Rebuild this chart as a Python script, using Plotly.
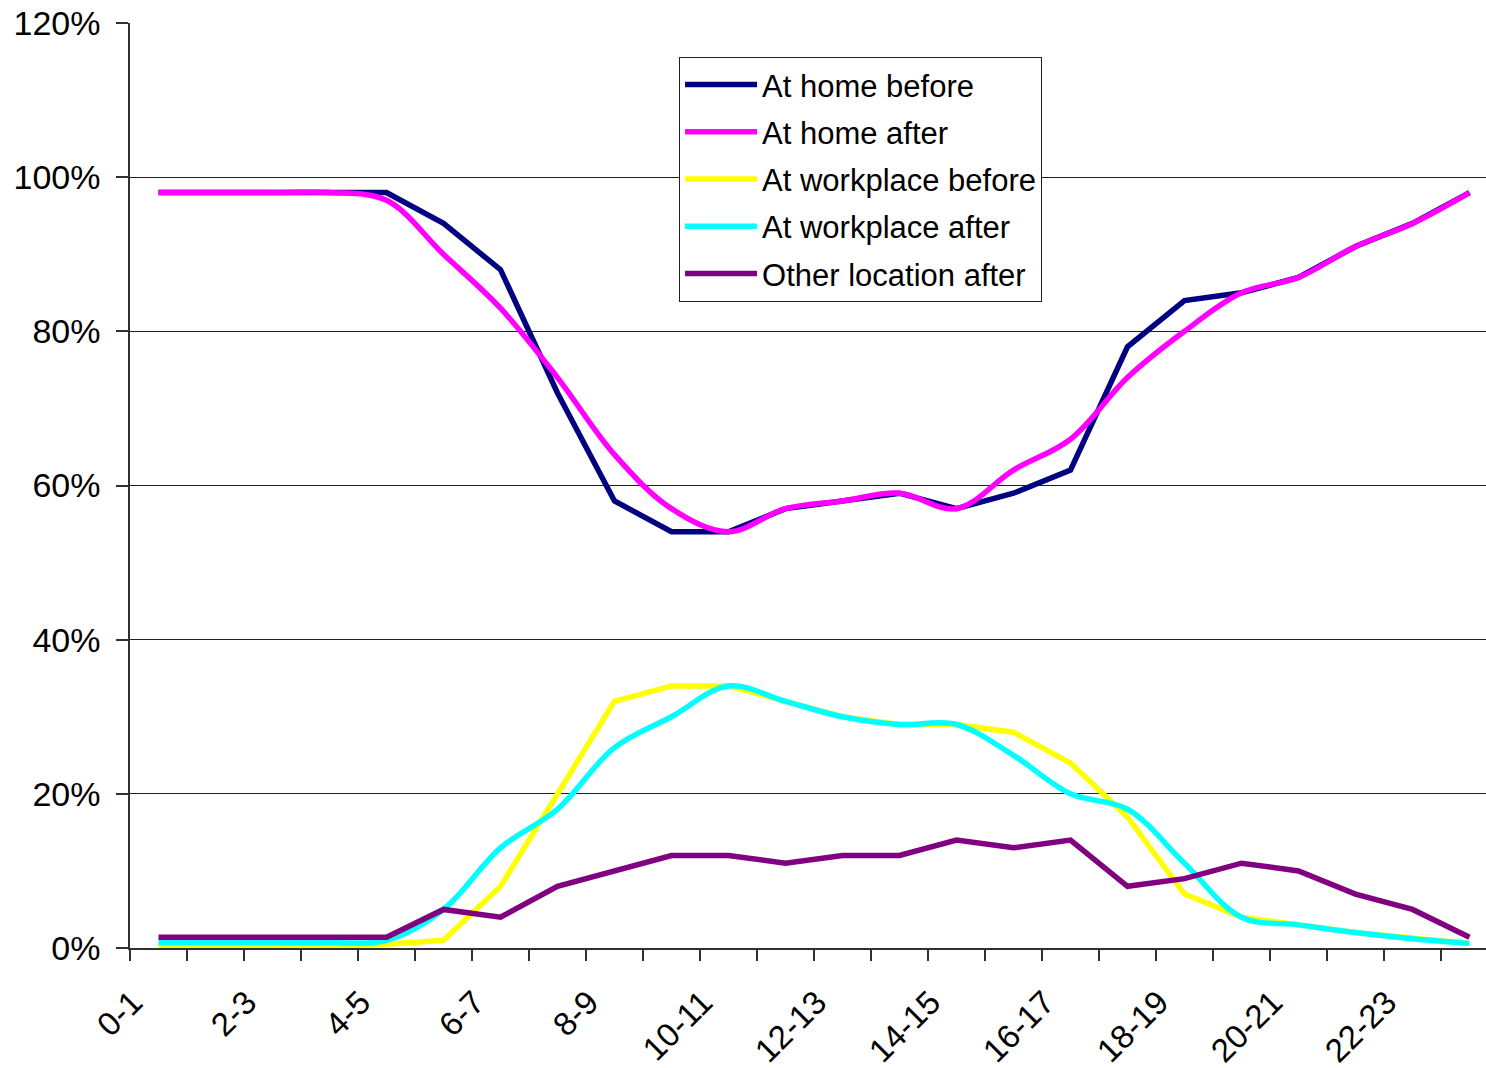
import plotly.graph_objects as go

# Hour-of-day categories
hours = ["0-1", "1-2", "2-3", "3-4", "4-5", "5-6", "6-7", "7-8", "8-9", "9-10",
         "10-11", "11-12", "12-13", "13-14", "14-15", "15-16", "16-17", "17-18",
         "18-19", "19-20", "20-21", "21-22", "22-23", "23-24"]

# Share of people at each location (%)
home_before = [98, 98, 98, 98, 98, 94, 88, 72, 58, 54, 54, 57, 58, 59, 57, 59,
               62, 78, 84, 85, 87, 91, 94, 98]
home_after = [98, 98, 98, 98, 97, 90, 83, 74, 64, 57, 54, 57, 58, 59, 57, 62,
              66, 74, 80, 85, 87, 91, 94, 98]
work_before = [0.2, 0.2, 0.2, 0.2, 0.5, 1, 8, 20, 32, 34, 34, 32, 30, 29, 29, 28,
               24, 17, 7, 4, 3, 2, 1.3, 0.6]
work_after = [0.7, 0.7, 0.7, 0.7, 1, 5, 13, 18, 26, 30, 34, 32, 30, 29, 29, 25,
              20, 18, 11, 4, 3, 2, 1.2, 0.6]
other_after = [1.4, 1.4, 1.4, 1.4, 1.4, 5, 4, 8, 10, 12, 12, 11, 12, 12, 14, 13,
               14, 8, 9, 11, 10, 7, 5, 1.4]

series = [
    ("At home before", home_before, "#000080", "linear"),
    ("At home after", home_after, "#FF00FF", "spline"),
    ("At workplace before", work_before, "#FFFF00", "linear"),
    ("At workplace after", work_after, "#00FFFF", "spline"),
    ("Other location after", other_after, "#800080", "linear"),
]

x = list(range(len(hours)))
FONT = "Liberation Sans, Arial, sans-serif"

fig = go.Figure()
for i, (name, vals, color, shape) in enumerate(series):
    fig.add_trace(go.Scatter(
        x=x, y=vals, name=name, mode="lines", legendgroup=f"g{i}",
        line=dict(color=color, width=5.5, shape=shape),
    ))

fig.update_layout(
    width=1486, height=1068,
    margin=dict(l=130, r=0, t=23, b=120),
    paper_bgcolor="white", plot_bgcolor="white",
    font=dict(family=FONT, color="black"),
    showlegend=True,
    legend=dict(
        x=0.4049, y=0.9635, xanchor="left", yanchor="top",
        bgcolor="white", bordercolor="#202020", borderwidth=1,
        font=dict(size=31, family=FONT, color="black"),
        traceorder="grouped", tracegroupgap=4, itemwidth=72,
    ),
)

# Labels on every other hour, slanted and set just left of the category centre
fig.update_xaxes(
    range=[-0.5, 23.29], automargin=False,
    tickmode="array",
    tickvals=[v - 0.45 for v in x[::2]], ticktext=hours[::2],
    tickangle=-45, ticks="",
    ticklabelstandoff=20,
    tickfont=dict(size=33, family=FONT, color="black"),
    showgrid=False, zeroline=False,
    showline=True, linecolor="#303030", linewidth=1.5,
    minor=dict(tickmode="array", tickvals=[v - 0.5 for v in x] + [x[-1] + 0.5],
               ticks="outside", ticklen=11, tickcolor="#303030", tickwidth=1.5,
               showgrid=False),
)

fig.update_yaxes(
    range=[0, 120], tickmode="linear", tick0=0, dtick=20, ticksuffix="%",
    automargin=False,
    ticks="outside", ticklen=12, tickcolor="#303030", tickwidth=1.5,
    tickfont=dict(size=34, family=FONT, color="black"),
    ticklabelstandoff=9,
    showgrid=True, gridcolor="#202020", gridwidth=1,
    zeroline=False,
    showline=True, linecolor="#303030", linewidth=1.5,
)

fig.write_html("out.html")
